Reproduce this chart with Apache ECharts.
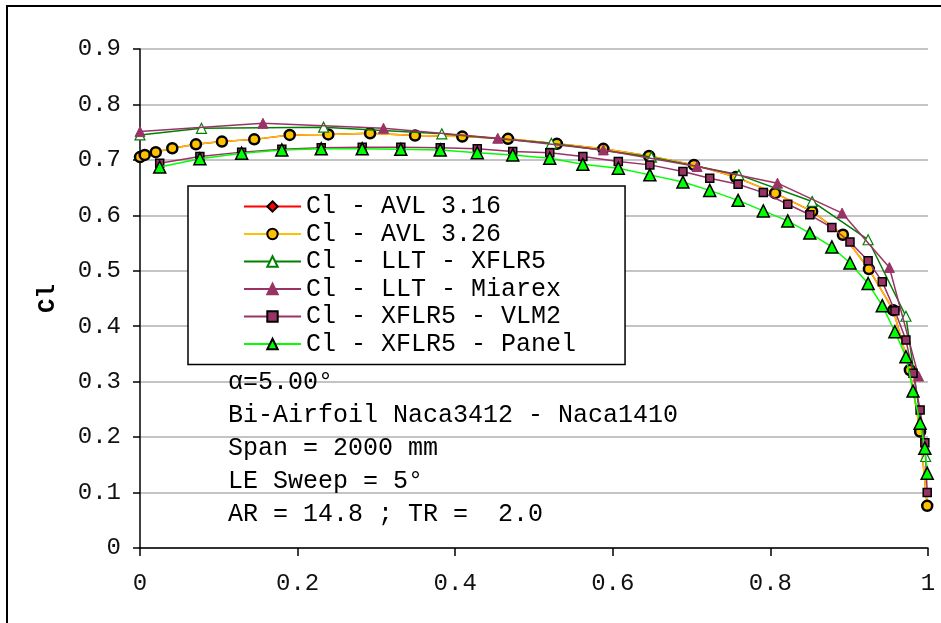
<!DOCTYPE html>
<html><head><meta charset="utf-8">
<script src="https://cdn.jsdelivr.net/npm/echarts@6/dist/echarts.min.js"></script>
<style>html,body{margin:0;padding:0;background:#fff}#c{width:941px;height:623px}</style>
</head><body><div id="c"></div><script>
// ---- data ----
const seriesNames = ['Cl - AVL 3.16', 'Cl - AVL 3.26', 'Cl - LLT - XFLR5', 'Cl - LLT - Miarex', 'Cl - XFLR5 - VLM2', 'Cl - XFLR5 - Panel'];
const avlX = [0.0, 0.006, 0.02, 0.041, 0.071, 0.104, 0.145, 0.19, 0.239, 0.292, 0.349, 0.409, 0.467, 0.529, 0.588, 0.646, 0.703, 0.756, 0.806, 0.853, 0.892, 0.925, 0.956, 0.977, 0.99, 0.999];
const avl316Y = [0.705, 0.709, 0.714, 0.721, 0.728, 0.733, 0.737, 0.745, 0.746, 0.748, 0.744, 0.742, 0.738, 0.729, 0.72, 0.707, 0.691, 0.669, 0.640, 0.607, 0.565, 0.503, 0.429, 0.321, 0.210, 0.076];
const avl326Y = [0.705, 0.709, 0.714, 0.721, 0.728, 0.733, 0.737, 0.745, 0.746, 0.748, 0.744, 0.742, 0.738, 0.729, 0.72, 0.707, 0.691, 0.669, 0.640, 0.607, 0.565, 0.503, 0.429, 0.321, 0.210, 0.076];
const lltXflrX = [0, 0.078, 0.233, 0.383, 0.522, 0.649, 0.760, 0.853, 0.924, 0.972, 0.997];
const lltXflrY = [0.745, 0.757, 0.759, 0.747, 0.730, 0.705, 0.673, 0.625, 0.556, 0.418, 0.165];
const lltMiarexX = [0, 0.156, 0.309, 0.454, 0.588, 0.707, 0.809, 0.891, 0.951, 0.988];
const lltMiarexY = [0.751, 0.766, 0.757, 0.739, 0.718, 0.688, 0.658, 0.604, 0.506, 0.31];
const panelX = [0.025, 0.076, 0.129, 0.180, 0.230, 0.282, 0.331, 0.381, 0.428, 0.473, 0.520, 0.562, 0.607, 0.647, 0.689, 0.723, 0.759, 0.791, 0.822, 0.850, 0.878, 0.901, 0.924, 0.942, 0.958, 0.972, 0.981, 0.990, 0.996, 0.999];
const vlmY = [0.694, 0.706, 0.714, 0.719, 0.722, 0.723, 0.723, 0.722, 0.720, 0.715, 0.713, 0.706, 0.697, 0.691, 0.679, 0.667, 0.656, 0.641, 0.620, 0.601, 0.578, 0.552, 0.518, 0.480, 0.428, 0.375, 0.315, 0.249, 0.19, 0.100];
const panelY = [0.687, 0.702, 0.712, 0.718, 0.720, 0.720, 0.719, 0.718, 0.713, 0.709, 0.703, 0.692, 0.685, 0.673, 0.660, 0.645, 0.627, 0.608, 0.590, 0.568, 0.543, 0.514, 0.477, 0.437, 0.390, 0.345, 0.283, 0.225, 0.180, 0.135];
const annotations = ['\u03b1=5.00\u00b0', 'Bi-Airfoil Naca3412 - Naca1410', 'Span = 2000 mm', 'LE Sweep = 5\u00b0', 'AR = 14.8 ; TR =  2.0'];
const xTicks = {min: 0, max: 1, interval: 0.2};
const yTicks = {min: 0, max: 0.9, interval: 0.1};
const yName = 'Cl';

// ---- chart ----
const MONO = '"Liberation Mono", "DejaVu Sans Mono", monospace';
function pts(xs, ys) { return xs.map((x, i) => [x, ys[i]]); }
function line(name, xs, ys, color, symbol, size, fill, border, bw, z) {
  return {
    name, type: 'line', data: pts(xs, ys), z,
    symbol, symbolSize: size, showSymbol: true,
    lineStyle: {color, width: 1.5},
    itemStyle: {color: fill, borderColor: border, borderWidth: bw},
    emphasis: {disabled: true}, animation: false, clip: false
  };
}
const chart = echarts.init(document.getElementById('c'), null, {renderer: 'canvas'});
chart.setOption({
  animation: false,
  backgroundColor: '#fff',
  grid: {left: 140, top: 49, right: 13, bottom: 75, containLabel: false},
  xAxis: {
    type: 'value', min: xTicks.min, max: xTicks.max, interval: xTicks.interval,
    axisLine: {show: true, onZero: false, lineStyle: {color: '#000', width: 1.5}},
    axisTick: {show: true, length: 8, lineStyle: {color: '#000', width: 1.5}},
    splitLine: {show: false},
    axisLabel: {fontFamily: MONO, fontSize: 24, color: '#111', margin: 24}
  },
  yAxis: {
    type: 'value', min: yTicks.min, max: yTicks.max, interval: yTicks.interval,
    name: yName, nameLocation: 'middle', nameGap: 80, nameRotate: 90,
    nameTextStyle: {fontFamily: MONO, fontSize: 24, fontWeight: 'bold', color: '#000'},
    axisLine: {show: true, lineStyle: {color: '#000', width: 1.5}},
    axisTick: {show: true, length: 7, lineStyle: {color: '#000', width: 1.5}},
    splitLine: {show: true, lineStyle: {color: '#c4c4c4', width: 2}},
    axisLabel: {fontFamily: MONO, fontSize: 24, color: '#111', margin: 19}
  },
  legend: {
    orient: 'vertical', left: 188, top: 186,
    backgroundColor: '#fff', borderColor: '#000', borderWidth: 1.5,
    padding: [8, 49, 8, 55], itemWidth: 57, itemHeight: 13, itemGap: 2.5,
    textStyle: {fontFamily: MONO, fontSize: 25, color: '#000', lineHeight: 24},
    data: seriesNames
  },
  series: [
    line(seriesNames[0], avlX, avl316Y, '#ff0000', 'diamond', 9, '#ff0000', '#000', 1, 2),
    line(seriesNames[1], avlX, avl326Y, '#ffc000', 'circle', 10, '#ffc000', '#000', 2.5, 3),
    line(seriesNames[2], lltXflrX, lltXflrY, '#008000', 'triangle', 10, '#fff', '#008000', 1.2, 4),
    line(seriesNames[3], lltMiarexX, lltMiarexY, '#993366', 'triangle', 10, '#993366', '#993366', 1, 5),
    line(seriesNames[4], panelX, vlmY, '#993366', 'rect', 8, '#993366', '#000', 1.5, 6),
    line(seriesNames[5], panelX, panelY, '#00ff00', 'triangle', 12, '#00ff00', '#000', 1.5, 7)
  ],
  graphic: [
    {type: 'rect', z: -10, silent: true, shape: {x: 7, y: 6, width: 1000, height: 1000},
     style: {fill: 'none', stroke: '#000', lineWidth: 2}},
    ...annotations.map((t, i) => ({
      type: 'text', left: 228, top: 370 + i * 33, z: 20, silent: true,
      style: {text: t, font: '25px ' + MONO, fill: '#000'}
    }))
  ]
});
</script></body></html>
